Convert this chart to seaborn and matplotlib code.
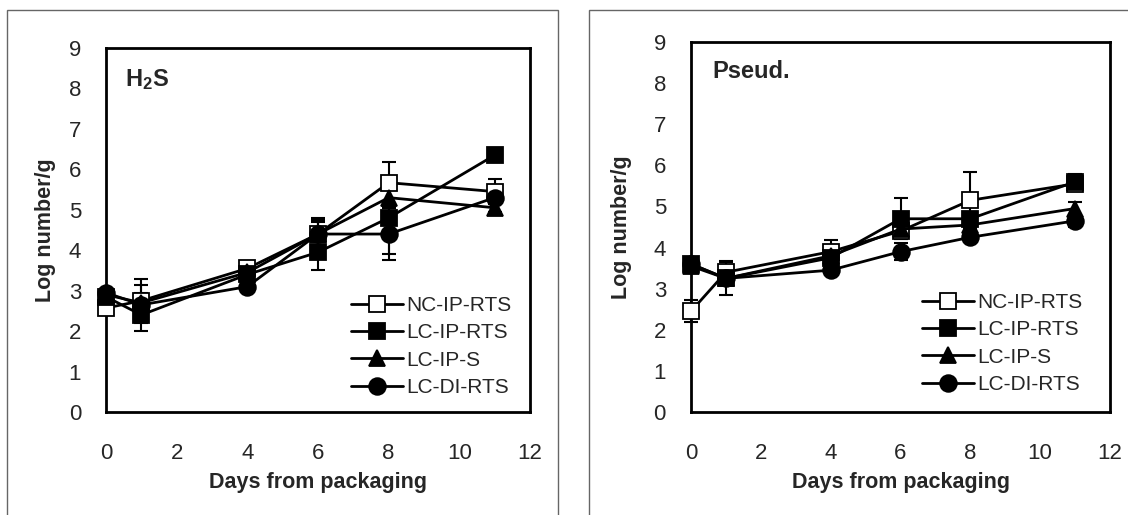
import seaborn as sns
import matplotlib.pyplot as plt
from matplotlib.patches import Rectangle

days = [0, 1, 4, 6, 8, 11]
series = ["NC-IP-RTS", "LC-IP-RTS", "LC-IP-S", "LC-DI-RTS"]
markers = ["s", "s", "^", "o"]
faces = ["white", "black", "black", "black"]

# H2S producers
h2s_mean = {
    "NC-IP-RTS": [2.57, 2.75, 3.55, 4.40, 5.67, 5.45],
    "LC-IP-RTS": [2.85, 2.40, 3.40, 3.95, 4.80, 6.35],
    "LC-IP-S":   [2.90, 2.70, 3.45, 4.40, 5.30, 5.05],
    "LC-DI-RTS": [2.95, 2.65, 3.10, 4.40, 4.40, 5.30],
}
h2s_err = {
    "NC-IP-RTS": [0.15, 0.55, 0.08, 0.40, 0.50, 0.30],
    "LC-IP-RTS": [0.10, 0.40, 0.10, 0.45, 0.90, 0.10],
    "LC-IP-S":   [0.10, 0.45, 0.10, 0.35, 0.20, 0.10],
    "LC-DI-RTS": [0.10, 0.30, 0.10, 0.30, 0.65, 0.10],
}

# Pseudomonas
pse_mean = {
    "NC-IP-RTS": [2.45, 3.40, 3.90, 4.40, 5.15, 5.55],
    "LC-IP-RTS": [3.60, 3.25, 3.75, 4.70, 4.70, 5.60],
    "LC-IP-S":   [3.55, 3.25, 3.80, 4.45, 4.55, 4.95],
    "LC-DI-RTS": [3.60, 3.25, 3.45, 3.90, 4.25, 4.65],
}
pse_err = {
    "NC-IP-RTS": [0.27, 0.28, 0.28, 0.20, 0.68, 0.15],
    "LC-IP-RTS": [0.10, 0.15, 0.15, 0.50, 0.10, 0.20],
    "LC-IP-S":   [0.10, 0.40, 0.10, 0.10, 0.10, 0.15],
    "LC-DI-RTS": [0.10, 0.15, 0.10, 0.20, 0.10, 0.15],
}

sns.set_style("white")
plt.rcParams['font.family'] = ['Liberation Sans', 'DejaVu Sans']
plt.rcParams['mathtext.fontset'] = 'custom'
plt.rcParams['mathtext.rm'] = 'Liberation Sans'
plt.rcParams['mathtext.bf'] = 'Liberation Sans:bold'

fig = plt.figure(figsize=(11.28, 5.15), dpi=100)
# grey boxes around each panel
fig.patches.append(Rectangle((7 / 1128, -0.1), 551 / 1128, 1.1 - 10 / 515,
                             transform=fig.transFigure, fill=False,
                             edgecolor='#666666', linewidth=1))
fig.patches.append(Rectangle((589 / 1128, -0.1), 0.6, 1.1 - 10 / 515,
                             transform=fig.transFigure, fill=False,
                             edgecolor='#666666', linewidth=1))

ax1 = fig.add_axes([106 / 1128, 1 - 412 / 515, 424 / 1128, 364 / 515])
ax2 = fig.add_axes([691 / 1128, 1 - 412 / 515, 419 / 1128, 370 / 515])

panels = [
    (ax1, h2s_mean, h2s_err, r'$\mathbf{H_2S}$', (0.045, 0.912), (0.578, 0.319), -0.143, -0.195),
    (ax2, pse_mean, pse_err, 'Pseud.', (0.052, 0.919), (0.551, 0.322), -0.165, -0.19),
]

for ax, means, errs, tag, tagpos, legpos, ylx, xly in panels:
    for name in series:
        ax.errorbar(days, means[name], yerr=errs[name], fmt='none',
                    ecolor='black', elinewidth=1.5, capsize=5, capthick=1.5,
                    zorder=2, clip_on=False)
    for name, mk, fc in zip(series, markers, faces):
        sns.lineplot(x=days, y=means[name], ax=ax, color='black', linewidth=2,
                     marker=mk, markersize=11 if mk != 'o' else 12,
                     markerfacecolor=fc, markeredgecolor='black',
                     markeredgewidth=1.3, label=name, zorder=3, clip_on=False)
    ax.set_xlim(0, 12)
    ax.set_ylim(0, 9)
    ax.set_xticks(range(0, 13, 2))
    ax.set_yticks(range(0, 10))
    for s in ax.spines.values():
        s.set_linewidth(2)
        s.set_color('black')
        s.set_zorder(1)
    ax.tick_params(axis='both', direction='out', length=6, width=1,
                   color='#777777', labelsize=16)
    ax.tick_params(axis='y', pad=12)
    ax.tick_params(axis='x', pad=16)
    ax.set_xlabel("Days from packaging", fontsize=15.5, fontweight='bold')
    ax.set_ylabel("Log number/g", fontsize=15.5, fontweight='bold')
    ax.xaxis.label.set_va('center')
    ax.yaxis.label.set_va('center')
    ax.xaxis.set_label_coords(0.5, xly)
    ax.yaxis.set_label_coords(ylx, 0.5)
    ax.text(tagpos[0], tagpos[1], tag, transform=ax.transAxes,
            fontsize=17, fontweight='bold', ha='left', va='center')
    ax.legend(loc='upper left', bbox_to_anchor=legpos, frameon=False,
              fontsize=15, handlelength=2.5, handletextpad=0.15,
              labelspacing=0.4, borderpad=0, borderaxespad=0)

plt.savefig("out.png", dpi=100)
